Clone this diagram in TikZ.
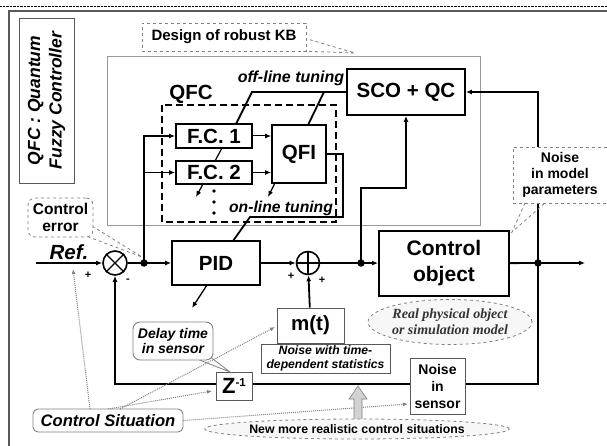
\documentclass[tikz,border=0pt]{standalone}
\usepackage{fontspec}
\setmainfont{Liberation Sans}
\newfontfamily\timesfont{Liberation Serif}
\usetikzlibrary{arrows.meta,shapes.geometric}

\newcommand{\fs}[1]{\fontsize{#1}{#1}\selectfont}

\begin{document}
\begin{tikzpicture}[x=1pt,y=-1pt,
  blk/.style={draw, line width=1.8pt, fill=white, inner sep=0pt, font=\bfseries\fs{20.5}},
  sbox/.style={draw=gray!70!black, line width=0.9pt, fill=white, inner sep=0pt, align=center},
  note/.style={draw=gray, dashed, line width=0.8pt, fill=white, inner sep=0pt, align=center},
  sig/.style={line width=1.8pt},
  tip/.style={-{Latex[length=6pt,width=5pt]}},
  hint/.style={gray, densely dotted, line width=1pt, -{Latex[length=5pt,width=4pt]}},
  jdot/.style={circle, fill, inner sep=0pt, minimum size=7.5pt},
  sumnode/.style={circle, draw, line width=1.6pt, fill=white, inner sep=0pt, minimum size=#1}]
  \useasboundingbox (0,0) rectangle (607,446);
  % frame
  \draw[densely dotted] (0,6) -- (607,6);
  \draw[gray!70!black, line width=1.3pt] (9,446) -- (9,11) -- (607,11);
  % legend
  \node[sbox, minimum width=55, minimum height=165] (leg) at (46.5,100.5) {};
  \node[rotate=90, align=center, font=\bfseries\itshape\fs{17.5}] (legtxt) at (leg) {QFC : Quantum\\[4pt]Fuzzy Controller};
  % design of robust KB
  \draw[gray!80, thin] (107,56) rectangle (480,225);
  \draw[gray, dashed, line width=0.8pt] (304,38) -- (355,53) -- (298,51);
  \node[note, minimum width=164, minimum height=28, font=\bfseries\fs{15}] (kb) at (224,37) {Design of robust KB};
  % QFC block
  \draw[dashed, line width=1.4pt, dash pattern=on 7pt off 4pt] (162,105) rectangle (336,222);
  \node[font=\bfseries\fs{20.5}] (qfc) at (191,94) {QFC};
  \node[blk, minimum width=76, minimum height=24] (fc1) at (214,136) {F.C. 1};
  \node[blk, minimum width=76, minimum height=23] (fc2) at (214,172.5) {F.C. 2};
  \node[blk, minimum width=54, minimum height=58] (qfi) at (299,154) {QFI};
  \node[blk, minimum width=118, minimum height=46] (sco) at (406,92) {SCO + QC};
  \draw[line width=1pt, tip] (fc1) -- (fc1 -| qfi.west);
  \draw[line width=1pt, tip] (fc2) -- (fc2 -| qfi.west);
  \draw[line width=1.2pt] (222,148) -- (215,161);
  \draw[line width=1.2pt, tip] (203,184) -- (196,197);
  \draw[line width=1.2pt, tip] (275,183) -- (268,197);
  \foreach \y in {191,202,213} \fill (214,\y) circle (1.9);
  \node[font=\bfseries\itshape\fs{16}] (offt) at (291,78) {off-line tuning};
  \node[font=\bfseries\itshape\fs{15.7}] (ont) at (281,208) {on-line tuning};
  % main loop
  \coordinate (in) at (36,263); \coordinate (j1) at (144,263);
  \coordinate (j2) at (361,263); \coordinate (j3) at (538,263);
  \coordinate (out) at (585,263); \coordinate (fb) at (115,384);
  \node[sumnode=24] (sum1) at (115,263) {};
  \draw[line width=1.4pt] (sum1.north west) -- (sum1.south east) (sum1.north east) -- (sum1.south west);
  \node[sumnode=23] (sum2) at (308,263) {};
  \draw[line width=1.4pt] (sum2.north) -- (sum2.south) (sum2.west) -- (sum2.east);
  \node[blk, minimum width=88, minimum height=44] (pid) at (216,263) {PID};
  \node[blk, minimum width=130, minimum height=65, align=center, font=\bfseries\fs{21}] (ctrl) at (444,263.5) {Control\\[5pt]object};
  \node[sbox, minimum width=67, minimum height=35, font=\bfseries\fs{20.5}] (mt) at (310.5,325.5) {m(t)};
  \node[sbox, minimum width=129, minimum height=29, font=\bfseries\itshape\fs{12.2}] (ntd) at (325.5,358.5) {Noise with time-\\[2pt]dependent statistics};
  \draw[sig, tip] (in) -- (sum1);
  \node[font=\bfseries\itshape\fs{20.5}] (ref) at (69,252) {Ref.};
  \node[font=\bfseries\fs{11}] (p1) at (88,275) {+};
  \node[font=\bfseries\fs{11}] (m1) at (128,281) {-};
  \draw[sig] (sum1) -- (j1); \draw[sig, tip] (j1) -- (pid);
  \draw[sig, tip] (j1) |- (fc1); \draw[sig, tip] (j1 |- fc2) -- (fc2);
  \draw[sig, tip] (pid) -- (sum2);
  \node[font=\bfseries\fs{11}] (p2) at (291,276) {+};
  \node[font=\bfseries\fs{11}] (p3) at (322,280) {+};
  \draw[sig, tip] (mt) -- (sum2);
  \draw[sig] (sum2) -- (j2); \draw[sig, tip] (j2) -- (ctrl);
  \draw[sig, tip] (j2) -- (361,188) -| (sco);
  \draw[sig] (ctrl) -- (j3); \draw[sig, tip] (j3) -- (out);
  \draw[sig, tip] (j3) |- (sco);
  \draw[sig, tip] (j3) |- (fb) -- (sum1);
  \draw[line width=1.3pt, tip] (207,285) -- (192,308);
  % tuning lines
  \coordinate (off) at (252,92); \coordinate (on) at (250,217);
  \draw[sig] (sco.west) -- (off) -- (236,124);
  \draw[sig] (324,92) -- (308,125);
  \draw[sig] (qfi.east |- 0,154) -- (343,154) -- (343,217) -- (on) -- (233,241);
  \node[jdot] at (j1) {}; \node[jdot] at (j2) {}; \node[jdot] at (j3) {};
  % feedback blocks
  \node[sbox, minimum width=36, minimum height=28] (zinv) at (234,386) {{\bfseries\fs{22}Z}\raisebox{7pt}{\bfseries\fs{11.5}-1}};
  \node[sbox, minimum width=55, minimum height=56, font=\bfseries\fs{14}] (nsens) at (437.5,386) {Noise\\[3pt]in\\[3pt]sensor};
  % model noise callout
  \draw[gray, dashed, line width=0.8pt] (525,203) -- (512,232) -- (545,203);
  \node[note, minimum width=94, minimum height=56, font=\bfseries\fs{14}] (nmp) at (560,175) {Noise\\[2pt]in model\\[2pt]parameters};
  % control error callout
  \draw[gray, dashed, line width=0.8pt] (92,226) -- (142,257) -- (86,236);
  \node[note, rounded corners=7pt, minimum width=65, minimum height=39, font=\bfseries\fs{15.6}] (cerr) at (60.5,217.5) {Control\\[2pt]error};
  % delay callout
  \draw[gray, line width=0.8pt] (197,359) -- (230,372) -- (209,356);
  \node[sbox, draw=gray, rounded corners=7pt, minimum width=80, minimum height=38, font=\bfseries\itshape\fs{14}] (delay) at (173,341) {Delay time\\[1pt]in sensor};
  % ellipses
  \node[ellipse, draw=gray, dashed, line width=0.8pt, fill=gray!6, inner sep=0pt, minimum width=141, minimum height=45, align=center, text=black!80, font=\timesfont\bfseries\itshape\fs{14}] (real) at (450,322) {Real physical object\\[2pt]or simulation model};
  % control situation
  \node[sbox, draw=gray, rounded corners=5pt, minimum width=150, minimum height=23, font=\bfseries\itshape\fs{16.6}] (csit) at (108,420.5) {Control Situation};
  \draw[hint] (90,409) -- (73,269);
  \draw[hint] (108,409) -- (212,391);
  \draw[hint] (120,409) -- (275,327);
  \draw[hint] (csit.east) -- (408,404);
  \draw[gray, fill=gray!35, line width=0.6pt] (354,421) -- (354,399) -- (349,399) -- (358,386) -- (367,399) -- (362,399) -- (362,421) -- cycle;
  \node[ellipse, draw=gray, dashed, line width=0.8pt, fill=gray!6, inner sep=0pt, minimum width=241, minimum height=20, font=\bfseries\fs{12.3}] (newsit) at (357,429) {New more realistic control situations};
\end{tikzpicture}
\end{document}
